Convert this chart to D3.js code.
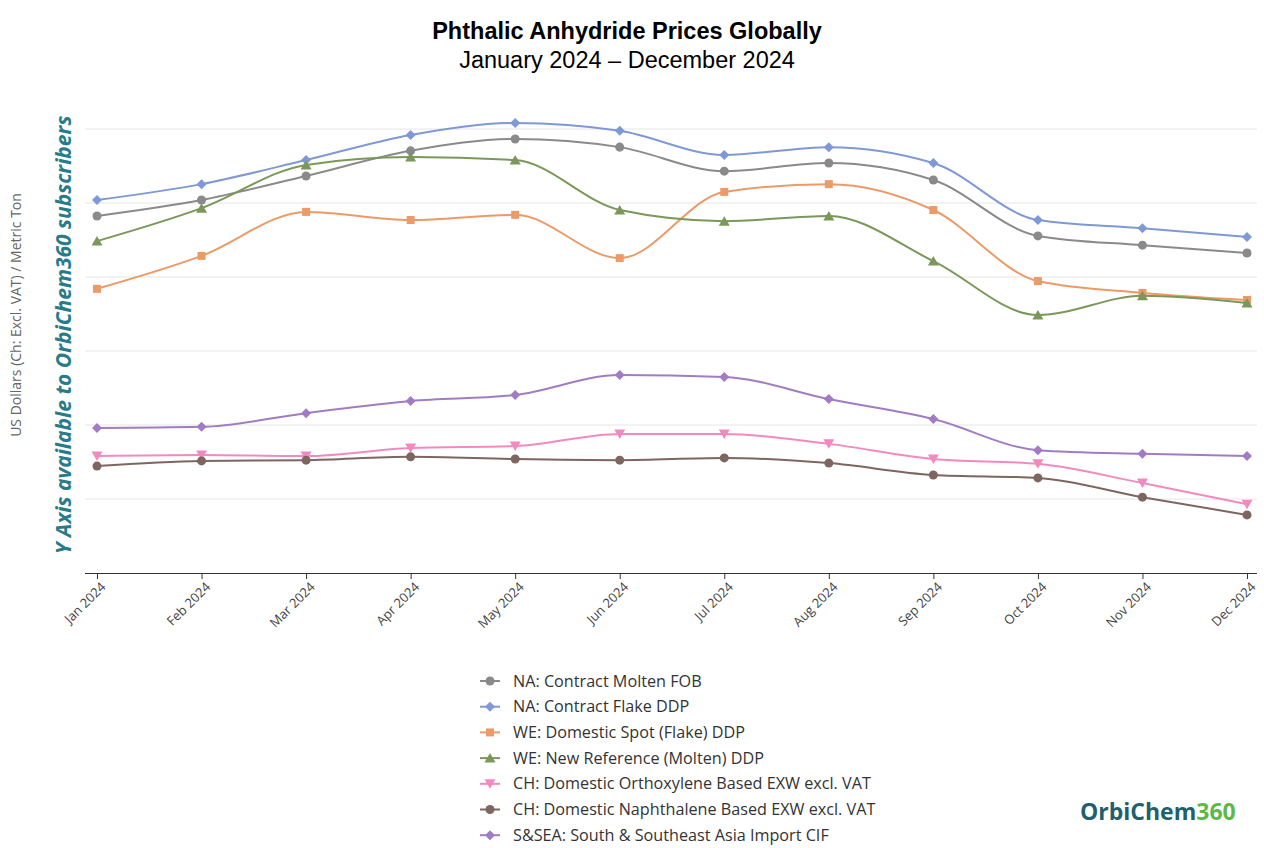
<!DOCTYPE html>
<html><head><meta charset="utf-8">
<script src="https://cdn.jsdelivr.net/npm/d3@7"></script>
<style>body{margin:0;background:#fff;font-family:"Open Sans",Arial,sans-serif}</style>
</head><body><svg id="chart" width="1264" height="848"></svg>
<script>
var months = ["Jan 2024","Feb 2024","Mar 2024","Apr 2024","May 2024","Jun 2024","Jul 2024","Aug 2024","Sep 2024","Oct 2024","Nov 2024","Dec 2024"];
var seriesNames = ["NA: Contract Molten FOB","NA: Contract Flake DDP","WE: Domestic Spot (Flake) DDP","WE: New Reference (Molten) DDP","CH: Domestic Orthoxylene Based EXW excl. VAT","CH: Domestic Naphthalene Based EXW excl. VAT","S&SEA: South & Southeast Asia Import CIF"];
var naMolten = [965,1008,1073,1141,1173,1151,1086,1108,1062,911,886,865];
var naFlake = [1008,1051,1116,1184,1216,1195,1130,1151,1108,954,932,908];
var weSpot = [768,857,976,954,968,851,1030,1051,981,789,757,738];
var weNewRef = [897,986,1103,1124,1116,981,951,965,843,697,749,730];
var chOrtho = [316,319,316,338,343,376,376,349,308,295,243,186];
var chNaph = [289,303,305,314,308,305,311,297,265,257,205,157];
var ssea = [392,395,432,465,481,535,530,470,416,332,322,316];
var colors = ["#8a8a8a","#7f98d6","#eb9a68","#7b985a","#f28ac0","#7e6660","#a27cc2"];
var symbols = ["circle","diamond","square","tri","tri-down","circle","diamond"];
var allSeries = [naMolten,naFlake,weSpot,weNewRef,chOrtho,chNaph,ssea];

var svg = d3.select("#chart");
var x = d3.scalePoint().domain(months).range([97,1247]);
var y = d3.scaleLinear().domain([0,1200]).range([573,129]);

svg.append("text").attr("x",627).attr("y",39).attr("text-anchor","middle")
  .style("font-family","Arial,Liberation Sans").style("font-size","23.5px").style("font-weight","bold").text("Phthalic Anhydride Prices Globally");
svg.append("text").attr("x",627).attr("y",68).attr("text-anchor","middle")
  .style("font-family","Arial,Liberation Sans").style("font-size","23.5px").text("January 2024 – December 2024");

// grid
svg.append("g").selectAll("line").data(d3.range(200,1201,200)).join("line")
  .attr("x1",85).attr("x2",1257).attr("y1",d=>y(d)).attr("y2",d=>y(d))
  .attr("stroke","#e6e6e6").attr("stroke-width",1);

var xAxis = svg.append("g").attr("transform","translate(0,573)")
  .call(d3.axisBottom(x).tickSize(6).tickSizeOuter(0));
xAxis.select(".domain").attr("d","M85,0.5H1257").attr("stroke","#333");
xAxis.selectAll(".tick line").attr("stroke","#333");
xAxis.selectAll("text").attr("transform","rotate(-45)").attr("text-anchor","end")
  .attr("dx","-0.3em").attr("dy","0.6em").style("font-size","13px").style("font-family","Open Sans").style("fill","#444");

svg.append("text").attr("transform","translate(21,315) rotate(-90)").attr("text-anchor","middle")
  .style("font-size","14px").style("fill","#666").text("US Dollars (Ch: Excl. VAT) / Metric Ton");
svg.append("text").attr("transform","translate(71,335) rotate(-90)").attr("text-anchor","middle")
  .style("font-size","21px").style("font-weight","bold").style("font-style","italic").style("fill","#277b8a")
  .text("Y Axis available to OrbiChem360 subscribers");

function symPath(s) {
  if (s === "circle") return d3.symbol(d3.symbolCircle, 64)();
  if (s === "square") return d3.symbol(d3.symbolSquare, 64)();
  if (s === "diamond") return "M0,-5L5,0L0,5L-5,0Z";
  if (s === "tri") return "M0,-5L5.5,4.5L-5.5,4.5Z";
  return "M0,5L5.5,-4.5L-5.5,-4.5Z";
}
var line = d3.line().x((d,i)=>x(months[i])).y(d=>y(d)).curve(d3.curveMonotoneX);

allSeries.forEach(function (vals, k) {
  var g = svg.append("g");
  g.append("path").attr("d",line(vals)).attr("fill","none").attr("stroke",colors[k]).attr("stroke-width",2);
  g.selectAll("path.m").data(vals).join("path").attr("class","m")
    .attr("d",symPath(symbols[k]))
    .attr("transform",(d,i)=>"translate("+x(months[i])+","+y(d)+")")
    .attr("fill",colors[k]);
});

// legend
var leg = svg.append("g").selectAll("g").data(seriesNames).join("g")
  .attr("transform",(d,i)=>"translate(480,"+(681+i*25.7)+")");
leg.append("line").attr("x1",0).attr("x2",20).attr("stroke",(d,i)=>colors[i]).attr("stroke-width",2);
leg.append("path").attr("d",(d,i)=>symPath(symbols[i]))
  .attr("transform","translate(10,0)")
  .attr("fill",(d,i)=>colors[i]);
leg.append("text").attr("x",33).attr("dy","0.35em").style("font-size","16.2px").style("fill","#333").text(d=>d);

// logo
var logo = svg.append("text").attr("x",1080).attr("y",820).style("font-size","23px").style("font-weight","bold");
logo.append("tspan").attr("fill","#1f5f6e").text("OrbiChem");
logo.append("tspan").attr("fill","#5cb946").text("360");
</script></body></html>
